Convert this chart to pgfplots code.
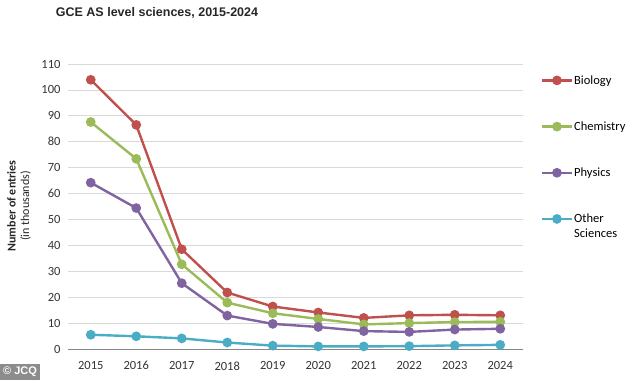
\documentclass[border=0pt]{standalone}
\usepackage{pgfplots}
\pgfplotsset{compat=1.18}
\usepackage{fontspec}
\setmainfont{Carlito}
\newfontfamily\titlefont{Liberation Sans}
\definecolor{bio}{HTML}{C0504D}
\definecolor{chem}{HTML}{9BBB59}
\definecolor{phys}{HTML}{8064A2}
\definecolor{oth}{HTML}{4BACC6}
\definecolor{gridc}{HTML}{D9D9D9}
\definecolor{axc}{HTML}{868686}
\begin{document}
\begin{tikzpicture}[x=1pt,y=1pt]
\path[use as bounding box] (0,0) rectangle (634,380);
\begin{axis}[
  at={(68pt,31pt)}, anchor=south west,
  scale only axis, width=455pt, height=285pt,
  xmin=2014.5, xmax=2024.5, ymin=0, ymax=110,
  xtick={2015,...,2024},
  xticklabel style={/pgf/number format/1000 sep={}},
  ytick={0,10,...,110},
  /pgf/number format/assume math mode=true,
  tick label style={font=\fontsize{12.5}{15}\selectfont, text=black!80},
  major tick length=0pt,
  ymajorgrids, grid style={gridc, line width=0.8pt},
  axis line style={draw=none},
  axis x line*=bottom,
  axis y line*=left,
  xticklabel style={yshift=-9pt},
  yticklabel style={xshift=-4pt},
  every axis plot/.append style={line width=2.4pt, mark=*, mark size=3.6pt},
  legend style={draw=none, fill=none, at={(1.032,0.975)}, anchor=north west,
    font=\fontsize{12.5}{15}\selectfont, row sep=32pt,
    nodes={text width=62pt, align=left, inner xsep=1pt}},
  legend cell align=left,
  legend image code/.code={\draw[#1, mark repeat=2, mark phase=2] plot coordinates {(0pt,0pt) (15pt,0pt) (30pt,0pt)};},
]
\draw[axc, line width=0.8pt] (axis cs:2014.5,0) -- (axis cs:2024.5,0);
\addplot[bio] coordinates {(2015,103.9) (2016,86.5) (2017,38.5) (2018,21.8) (2019,16.4) (2020,14.1) (2021,12.0) (2022,13.0) (2023,13.2) (2024,13.0)};
\addlegendentry{Biology}
\addplot[chem] coordinates {(2015,87.6) (2016,73.4) (2017,32.7) (2018,17.9) (2019,13.8) (2020,11.6) (2021,9.5) (2022,10.0) (2023,10.4) (2024,10.5)};
\addlegendentry{Chemistry}
\addplot[phys] coordinates {(2015,64.2) (2016,54.4) (2017,25.4) (2018,12.9) (2019,9.7) (2020,8.5) (2021,6.9) (2022,6.6) (2023,7.5) (2024,7.8)};
\addlegendentry{Physics}
\addplot[oth] coordinates {(2015,5.5) (2016,4.9) (2017,4.1) (2018,2.5) (2019,1.3) (2020,1.0) (2021,1.0) (2022,1.1) (2023,1.4) (2024,1.6)};
\addlegendentry{Other\\Sciences}
\end{axis}
\node[rotate=90, align=center, font=\fontsize{12}{13.5}\selectfont, text=black!85] at (19,174) {\textbf{Number of entries}\\(in thousands)};
\node[font=\titlefont\bfseries\fontsize{12.5}{15}\selectfont, text=black!85] at (157,367) {GCE AS level sciences, 2015-2024};
\node[fill=black!45, text=white, font=\titlefont\bfseries\fontsize{11}{13}\selectfont, inner sep=3pt, anchor=south west] at (0,0) {\textcopyright\ JCQ};
\end{tikzpicture}
\end{document}
